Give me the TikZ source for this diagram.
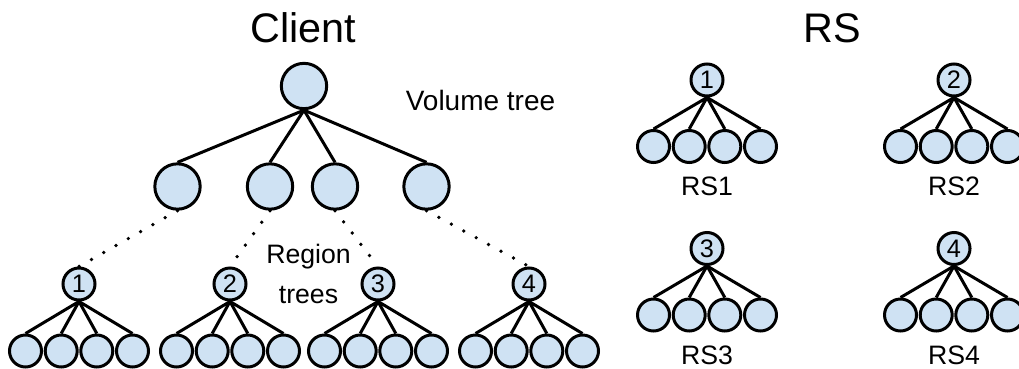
\documentclass[tikz,border=0pt]{standalone}
\usepackage{fontspec}
\setmainfont{Liberation Sans}

\definecolor{nodeblue}{HTML}{CFE2F3}

\tikzset{
  bignode/.style={circle,draw=black,fill=nodeblue,line width=2.25pt,minimum size=34pt,inner sep=0pt},
  smallnode/.style={circle,draw=black,fill=nodeblue,line width=2.25pt,minimum size=24pt,inner sep=0pt,
    font=\fontsize{19}{22}\selectfont},
  edge/.style={line width=2.25pt},
  dots/.style={line width=2.8pt,line cap=round,dash pattern=on 0pt off 10.6pt},
  title/.style={anchor=base,font=\fontsize{31}{36}\selectfont},
}

\begin{document}
\begin{tikzpicture}[x=0.75pt,y=-0.75pt]
\useasboundingbox (0,0) rectangle (1019,368);

\node[title] (client) at (303,42) {Client};
\node[title] (rs) at (832,42) {RS};

% volume tree
\node[bignode] (vroot) at (304,86) {};
\node[bignode] (v1) at (177.5,186.5) {};
\node[bignode] (v2) at (270,186.5) {};
\node[bignode] (v3) at (335,186.5) {};
\node[bignode] (v4) at (426.5,186.5) {};
\foreach \k in {1,...,4}
  \draw[edge] (vroot.south) -- (v\k.north);

\node[anchor=base,font=\fontsize{21}{25}\selectfont] (voltext) at (480.5,110) {Volume tree};

% region trees on the client
\foreach \i/\x in {1/79,2/230,3/378,4/529} {
  \node[smallnode] (r\i) at (\x,284) {\i};
  \foreach \j/\dx in {a/-53.5,b/-17.8,c/17.8,d/53.5} {
    \node[smallnode] (r\i\j) at (\x+\dx,351) {};
    \draw[edge] (r\i.south) -- (r\i\j.north);
  }
  \draw[dots] (v\i.south) -- (r\i.north);
}

\node[align=center,font=\fontsize{20}{30}\selectfont] (regtext) at (308.5,274) {Region\\trees};

% region trees on the servers
\foreach \i/\x/\y in {1/707/80,2/954/80,3/707/248.5,4/954/248.5} {
  \node[smallnode] (rs\i) at (\x,\y) {\i};
  \foreach \j/\dx in {a/-53.5,b/-17.8,c/17.8,d/53.5} {
    \node[smallnode] (rs\i\j) at (\x+\dx,\y+66.5) {};
    \draw[edge] (rs\i.south) -- (rs\i\j.north);
  }
  \node[anchor=base,font=\fontsize{20}{24}\selectfont] (rslabel\i) at (\x,\y+115.5) {RS\i};
}
\end{tikzpicture}
\end{document}
